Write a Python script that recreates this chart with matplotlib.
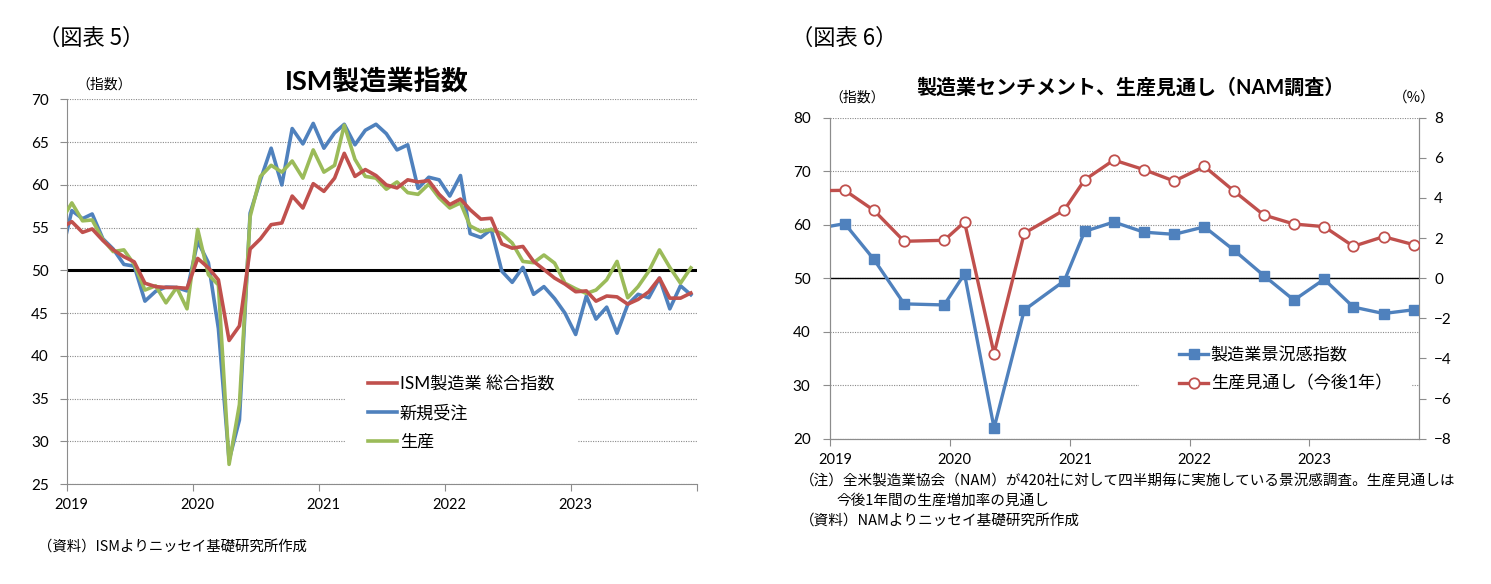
import numpy as np
import pandas as pd
import matplotlib
matplotlib.use('Agg')
import matplotlib.pyplot as plt
import matplotlib.dates as mdates
import matplotlib.transforms as mtransforms
from matplotlib.patches import Rectangle
from matplotlib.lines import Line2D

plt.rcParams['font.family'] = ['Lato', 'Noto Sans CJK JP', 'DejaVu Sans']

# ---------------- data: ISM (Dec 2018 .. Dec 2023, monthly) ----------------
ism_months = pd.date_range('2018-12-01', periods=61, freq='MS') + pd.Timedelta(days=14)
ism_composite = [55.0,
    55.7, 54.45, 54.85, 53.5, 52.4, 51.6, 51.0, 48.5, 48.1, 48.0, 48.0, 47.9,
    51.4, 50.3, 48.9, 41.8, 43.5, 52.5, 53.7, 55.35, 55.55, 58.7, 57.3, 60.15,
    59.25, 60.8, 63.7, 61.0, 61.8, 61.1, 60.0, 59.65, 60.6, 60.35, 60.5, 58.9,
    57.7, 58.35, 57.1, 56.0, 56.1, 53.1, 52.6, 52.8, 51.05, 50.1, 49.1, 48.4,
    47.5, 47.6, 46.4, 47.0, 46.9, 46.05, 46.6, 47.5, 49.1, 46.75, 46.75, 47.35]
ism_new_orders = [51.7,
    57.0, 56.05, 56.6, 53.7, 52.5, 50.7, 50.5, 46.4, 47.55, 48.05, 48.0, 47.6,
    53.4, 50.9, 43.2, 27.8, 32.5, 56.7, 60.6, 64.3, 60.0, 66.6, 64.8, 67.2,
    64.3, 66.1, 67.1, 64.7, 66.4, 67.1, 66.0, 64.1, 64.7, 59.6, 60.9, 60.6,
    58.7, 61.1, 54.3, 53.85, 54.8, 49.9, 48.6, 50.35, 47.2, 48.1, 46.7, 45.0,
    42.5, 47.0, 44.3, 45.7, 42.65, 46.0, 47.2, 46.8, 49.1, 45.5, 48.2, 47.15]
ism_production = [55.8,
    57.9, 55.8, 55.9, 53.6, 52.2, 52.4, 50.7, 47.7, 48.2, 46.2, 48.0, 45.5,
    54.8, 49.5, 48.3, 27.3, 34.3, 56.3, 61.0, 62.3, 61.5, 62.8, 60.8, 64.1,
    61.5, 62.3, 67.0, 63.0, 61.0, 60.8, 59.5, 60.35, 59.1, 58.9, 60.1, 58.5,
    57.3, 57.9, 55.2, 54.55, 54.8, 54.3, 53.2, 51.05, 50.9, 51.8, 50.85, 48.5,
    47.85, 47.3, 47.7, 48.9, 51.05, 46.8, 48.1, 49.9, 52.4, 50.35, 48.5, 50.3]
ism_labels = ['ISM製造業 総合指数', '新規受注', '生産']

# ---------------- data: NAM survey (quarterly) ----------------
nam_dates = pd.to_datetime([
    '2018-11-15', '2019-02-15', '2019-05-15', '2019-08-15', '2019-12-15',
    '2020-02-15', '2020-05-15', '2020-08-15', '2020-12-15',
    '2021-02-15', '2021-05-15', '2021-08-15', '2021-11-15',
    '2022-02-15', '2022-05-15', '2022-08-15', '2022-11-15',
    '2023-02-15', '2023-05-15', '2023-08-15', '2023-11-15'])
nam_sentiment = [59.2, 60.2, 53.5, 45.2, 45.0, 50.8, 22.0, 44.05, 49.5, 58.75,
                 60.5, 58.6, 58.2, 59.6, 55.3, 50.5, 45.9, 49.8, 44.6, 43.4, 44.1]
nam_production_outlook = [4.36, 4.38, 3.38, 1.84, 1.89, 2.8, -3.76, 2.24, 3.4, 4.9,
                          5.89, 5.41, 4.84, 5.57, 4.36, 3.15, 2.70, 2.57, 1.59, 2.07, 1.67]
nam_labels = ['製造業景況感指数', '生産見通し（今後1年）']

years = ['2019', '2020', '2021', '2022', '2023']

RED = '#C0504D'
BLUE = '#4F81BD'
GREEN = '#9BBB59'
GRID = '#8a8a8a'
SPINE = '#8c8c8c'

W, H = 1491, 584
fig = plt.figure(figsize=(W / 100, H / 100), dpi=100)


def fa(x0, y0, x1, y1):
    return [x0 / W, 1 - y1 / H, (x1 - x0) / W, (y1 - y0) / H]


def fpt(x, y):
    return (x / W, 1 - y / H)


def shift_xlabels(ax, px):
    off = mtransforms.ScaledTranslation(px / 100, 0, fig.dpi_scale_trans)
    for lab in ax.get_xticklabels():
        lab.set_transform(lab.get_transform() + off)


# ======================= left chart =======================
ax1 = fig.add_axes(fa(67, 99.5, 696.7, 484))
ax1.plot(ism_months, ism_composite, color=RED, lw=2.6, zorder=3)
ax1.plot(ism_months, ism_new_orders, color=BLUE, lw=2.6, zorder=2.5)
ax1.plot(ism_months, ism_production, color=GREEN, lw=2.6, zorder=2.8)
ax1.axhline(50, color='black', lw=2.2, zorder=2)
ax1.set_ylim(25, 70)
ax1.set_yticks(np.arange(25, 71, 5))
ax1.set_xlim(pd.Timestamp('2019-01-01'), pd.Timestamp('2024-01-01'))
xt = [pd.Timestamp(f'{y}-01-01') for y in range(2019, 2025)]
ax1.set_xticks(xt)
ax1.set_xticklabels(years + [''])
ax1.yaxis.grid(True, linestyle=(0, (1, 1.2)), color=GRID, lw=0.8)
ax1.set_axisbelow(True)
for s in ['top', 'right']:
    ax1.spines[s].set_visible(False)
for s in ['left', 'bottom']:
    ax1.spines[s].set_color(SPINE)
ax1.tick_params(axis='y', length=5, color=SPINE, pad=8, labelsize=11)
ax1.tick_params(axis='x', length=5, color=SPINE, pad=5, labelsize=10.5)
shift_xlabels(ax1, 4)

ax1.add_patch(Rectangle(fpt(345, 458), (578 - 345) / W, (458 - 368) / H,
                        transform=fig.transFigure, facecolor='white',
                        edgecolor='none', zorder=1.6, clip_on=False))
h1 = [Line2D([], [], color=c, lw=2.6) for c in (RED, BLUE, GREEN)]
ax1.legend(h1, ism_labels, loc='upper left', bbox_to_anchor=fpt(368, 376),
           bbox_transform=fig.transFigure, frameon=False, fontsize=12.3,
           handlelength=1.7, handletextpad=0.15, labelspacing=0.72,
           borderpad=0, borderaxespad=0)

fig.text(38 / W, 1 - 38 / H, '（図表 5）', fontsize=16, va='center', ha='left',
         family=['Noto Sans CJK JP'])
fig.text(377 / W, 1 - 81 / H, 'ISM製造業指数', fontsize=19.5, fontweight='bold',
         va='center', ha='center', family=['Lato', 'Noto Sans CJK JP'])
fig.text(76 / W, 1 - 85 / H, '（指数）', fontsize=10, va='center', ha='left',
         family=['Noto Sans CJK JP'])
fig.text(38 / W, 1 - 548 / H, '（資料）ISMよりニッセイ基礎研究所作成', fontsize=10.4,
         va='center', ha='left', family=['Noto Sans CJK JP'])

# ======================= right chart =======================
ax2 = fig.add_axes(fa(830, 117.7, 1419, 438.7))
ax2.set_ylim(20, 80)
ax2.set_yticks(np.arange(20, 81, 10))
ax2.set_xlim(pd.Timestamp('2019-01-01'), pd.Timestamp('2023-12-01'))
xt2 = [pd.Timestamp(f'{y}-01-01') for y in range(2019, 2024)]
ax2.set_xticks(xt2)
ax2.set_xticklabels(years)
ax2.yaxis.grid(True, linestyle=(0, (1, 1.2)), color=GRID, lw=0.8)
ax2.set_axisbelow(True)
ax2.axhline(50, color='black', lw=1.0, zorder=1.8)
ax2.plot(nam_dates, nam_sentiment, color=BLUE, lw=2.4, marker='s', markersize=6.5,
         markerfacecolor=BLUE, markeredgecolor=BLUE, zorder=3)
ax2.spines['top'].set_visible(False)
for s in ['left', 'bottom', 'right']:
    ax2.spines[s].set_color(SPINE)
ax2.tick_params(axis='y', length=5, color=SPINE, pad=9, labelsize=11)
ax2.tick_params(axis='x', length=5, color=SPINE, pad=5, labelsize=10.5)
shift_xlabels(ax2, 5)

ax2b = ax2.twinx()
ax2b.set_ylim(-8, 8)
ax2b.set_yticks(np.arange(-8, 9, 2))
ax2b.plot(nam_dates, nam_production_outlook, color=RED, lw=2.4, marker='o',
          markersize=7.5, markerfacecolor='white', markeredgecolor=RED,
          markeredgewidth=1.3, zorder=3)
ax2b.spines['top'].set_visible(False)
for s in ['left', 'bottom', 'right']:
    ax2b.spines[s].set_color(SPINE)
ax2b.tick_params(axis='y', length=5, color=SPINE, pad=6, labelsize=11)
ax2b.set_xlim(pd.Timestamp('2019-01-01'), pd.Timestamp('2023-12-01'))

ax2.add_patch(Rectangle(fpt(1139, 408), (1412 - 1139) / W, (408 - 340) / H,
                        transform=fig.transFigure, facecolor='white',
                        edgecolor='none', zorder=1.9, clip_on=False))
h2 = [Line2D([], [], color=BLUE, lw=2.4, marker='s', markersize=6.5),
      Line2D([], [], color=RED, lw=2.4, marker='o', markersize=7.5,
             markerfacecolor='white', markeredgecolor=RED, markeredgewidth=1.3)]
ax2b.legend(h2, nam_labels, loc='upper left', bbox_to_anchor=fpt(1179, 347),
            bbox_transform=fig.transFigure, frameon=False, fontsize=12.3,
            handlelength=1.7, handletextpad=0.15, labelspacing=0.7,
            borderpad=0, borderaxespad=0)

fig.text(791 / W, 1 - 38 / H, '（図表 6）', fontsize=16, va='center', ha='left',
         family=['Noto Sans CJK JP'])
fig.text(1130 / W, 1 - 88 / H, '製造業センチメント、生産見通し（NAM調査）', fontsize=14.4,
         fontweight='bold', va='center', ha='center', family=['Lato', 'Noto Sans CJK JP'])
fig.text(829 / W, 1 - 98 / H, '（指数）', fontsize=10, va='center', ha='left',
         family=['Noto Sans CJK JP'])
fig.text(1393 / W, 1 - 98 / H, '（%）', fontsize=10.5, va='center', ha='left',
         family=['Noto Sans CJK JP'])
fig.text(800 / W, 1 - 481 / H,
         '（注）全米製造業協会（NAM）が420社に対して四半期毎に実施している景況感調査。生産見通しは',
         fontsize=10.5, va='center', ha='left', family=['Noto Sans CJK JP'])
fig.text(836 / W, 1 - 501 / H, '今後1年間の生産増加率の見通し', fontsize=10.5,
         va='center', ha='left', family=['Noto Sans CJK JP'])
fig.text(800 / W, 1 - 522 / H, '（資料）NAMよりニッセイ基礎研究所作成', fontsize=10.5,
         va='center', ha='left', family=['Noto Sans CJK JP'])

fig.savefig('out.png', dpi=100)
